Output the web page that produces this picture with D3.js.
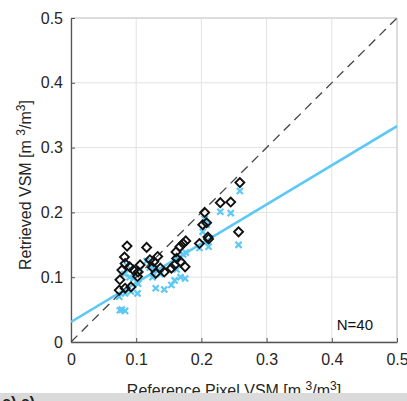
<!DOCTYPE html>
<html><head><meta charset="utf-8">
<script src="https://cdn.jsdelivr.net/npm/d3@7"></script>
<style>body{margin:0;background:#fff}svg{display:block}text{font-family:"Liberation Sans",Arial,sans-serif}</style>
</head><body>
<svg id="c" width="407" height="401"></svg>
<script>
const refX = [0.074,0.083,0.092,0.075,0.078,0.083,0.082,0.086,0.090,0.096,0.102,0.103,0.106,0.116,0.121,0.127,0.133,0.130,0.143,0.154,0.159,0.162,0.161,0.167,0.172,0.176,0.175,0.168,0.197,0.205,0.202,0.208,0.211,0.210,0.229,0.245,0.259,0.257,0.125,0.137];
const retrievedVSM = [0.080,0.083,0.085,0.096,0.111,0.121,0.131,0.148,0.116,0.111,0.101,0.108,0.119,0.146,0.127,0.124,0.132,0.106,0.108,0.114,0.119,0.129,0.139,0.147,0.152,0.156,0.116,0.124,0.152,0.200,0.181,0.184,0.159,0.162,0.215,0.216,0.246,0.170,0.115,0.114];
const altVSM = [0.070,0.075,0.078,0.049,0.050,0.048,0.105,0.118,0.100,0.098,0.075,0.090,0.112,0.125,0.115,0.113,0.110,0.083,0.081,0.088,0.095,0.112,0.127,0.130,0.135,0.138,0.098,0.100,0.145,0.190,0.170,0.181,0.147,0.155,0.201,0.199,0.233,0.150,0.100,0.105];
const fitX = [0, 0.5];
const fitY = [0.031, 0.333];
const ticks = [0, 0.1, 0.2, 0.3, 0.4, 0.5];
const tickLabels = ["0","0.1","0.2","0.3","0.4","0.5"];

const svg = d3.select("#c");
const L=71, R=397, T=18, B=342;
const x = d3.scaleLinear().domain([0,0.5]).range([L,R]);
const y = d3.scaleLinear().domain([0,0.5]).range([B,T]);

// grid
const g = svg.append("g");
ticks.forEach(t=>{
  g.append("line").attr("x1",x(t)).attr("x2",x(t)).attr("y1",T).attr("y2",B).attr("stroke","#e3e3e3").attr("stroke-width",1);
  g.append("line").attr("y1",y(t)).attr("y2",y(t)).attr("x1",L).attr("x2",R).attr("stroke","#e3e3e3").attr("stroke-width",1);
});
// box top/right
svg.append("line").attr("x1",L).attr("x2",R).attr("y1",T).attr("y2",T).attr("stroke","#c8c8c8");
svg.append("line").attr("x1",R).attr("x2",R).attr("y1",T).attr("y2",B).attr("stroke","#c8c8c8");

// axes
const xAxis = d3.axisBottom(x).tickValues(ticks).tickFormat((d,i)=>tickLabels[i]).tickSizeInner(-4).tickSizeOuter(0).tickPadding(12);
const yAxis = d3.axisLeft(y).tickValues(ticks).tickFormat((d,i)=>tickLabels[i]).tickSizeInner(-4).tickSizeOuter(0).tickPadding(8);
const gx = svg.append("g").attr("transform",`translate(0,${B})`).call(xAxis);
const gy = svg.append("g").attr("transform",`translate(${L},0)`).call(yAxis);
[gx,gy].forEach(a=>{
  a.select(".domain").attr("stroke","#555").attr("stroke-width",1.3);
  a.selectAll(".tick line").attr("stroke","#555");
  a.selectAll("text").attr("font-size",16).attr("fill","#262626").style("font-family","Liberation Sans, Arial, sans-serif");
});

// clip
svg.append("clipPath").attr("id","clip").append("rect").attr("x",L).attr("y",T).attr("width",R-L).attr("height",B-T);
const pg = svg.append("g").attr("clip-path","url(#clip)");

// blue markers
const sx = d3.symbol().type(d3.symbolX).size(26);
pg.selectAll(".b").data(refX).join("path")
  .attr("transform",(d,i)=>`translate(${x(d)},${y(altVSM[i])})`)
  .attr("d",sx).attr("fill","none").attr("stroke","#5bc8f5").attr("stroke-width",2.2);

// fit line
pg.append("line").attr("x1",x(fitX[0])).attr("y1",y(fitY[0])).attr("x2",x(fitX[1])).attr("y2",y(fitY[1]))
  .attr("stroke","#5bc8f5").attr("stroke-width",2.6);

// 1:1
pg.append("line").attr("x1",x(0)).attr("y1",y(0)).attr("x2",x(0.5)).attr("y2",y(0.5))
  .attr("stroke","#444").attr("stroke-width",1.3).attr("stroke-dasharray","9,6");

// diamonds
const sd = d3.symbol().type(d3.symbolSquare).size(40);
pg.selectAll(".d").data(refX).join("path")
  .attr("transform",(d,i)=>`translate(${x(d)},${y(retrievedVSM[i])}) rotate(45)`)
  .attr("d",sd).attr("fill","none").attr("stroke","#111").attr("stroke-width",1.9);

// N label
svg.append("text").attr("x",373).attr("y",330).attr("text-anchor","end").attr("font-size",15).attr("fill","#111").text("N=40");

// axis labels
const xl = svg.append("text").attr("x",x(0.25)).attr("y",396).attr("text-anchor","middle").attr("font-size",16).attr("fill","#262626");
xl.append("tspan").text("Reference Pixel VSM [m ");
xl.append("tspan").attr("dy",-6).attr("font-size",12).text("3");
xl.append("tspan").attr("dy",6).text("/m");
xl.append("tspan").attr("dy",-6).attr("font-size",12).text("3");
xl.append("tspan").attr("dy",6).text("]");

const yl = svg.append("text").attr("transform",`translate(31,${185}) rotate(-90)`).attr("text-anchor","middle").attr("font-size",16).attr("fill","#262626");
yl.append("tspan").text("Retrieved VSM [m ");
yl.append("tspan").attr("dy",-6).attr("font-size",12).text("3");
yl.append("tspan").attr("dy",6).text("/m");
yl.append("tspan").attr("dy",-6).attr("font-size",12).text("3");
yl.append("tspan").attr("dy",6).text("]");

// bottom gray strip
svg.append("rect").attr("x",0).attr("y",393).attr("width",407).attr("height",8).attr("fill","#dadada");
svg.append("text").attr("x",2).attr("y",408).attr("font-size",16).attr("font-weight","bold").attr("fill","#222").text("c)  c)");
</script>
</body></html>
